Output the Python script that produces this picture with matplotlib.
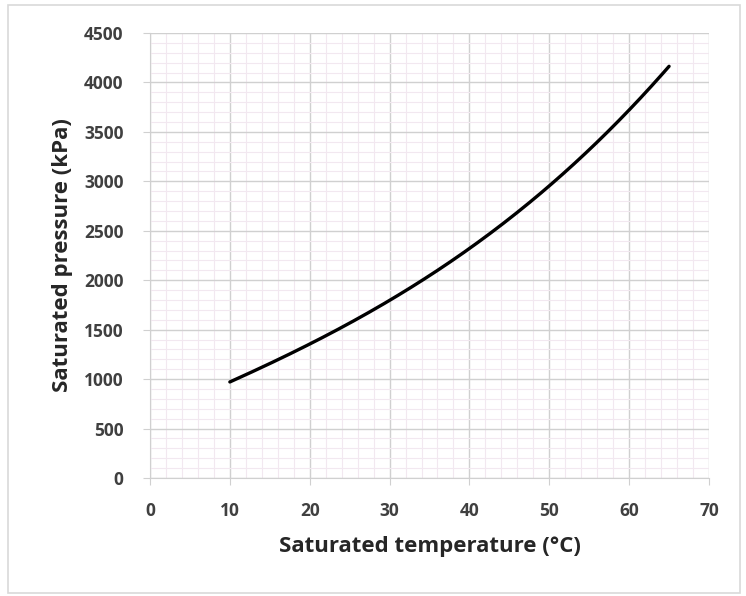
import matplotlib
matplotlib.use("Agg")
import matplotlib.pyplot as plt
from matplotlib.ticker import MultipleLocator
from matplotlib.patches import Rectangle
import numpy as np

temperature = [10, 15, 20, 25, 30, 35, 40, 45, 50, 55, 60, 65]
pressure = [975, 1155, 1350, 1565, 1800, 2050, 2315, 2625, 2965, 3320, 3700, 4175]

x_ticks = [0, 10, 20, 30, 40, 50, 60, 70]
y_ticks = [0, 500, 1000, 1500, 2000, 2500, 3000, 3500, 4000, 4500]

plt.rcParams['font.family'] = ['Open Sans', 'DejaVu Sans']

fig = plt.figure(figsize=(7.46, 5.96), dpi=100)
fig.patch.set_facecolor('white')
fig.patches.append(Rectangle((8/746, 1-593/596), (740-8)/746, (593-5)/596,
                             transform=fig.transFigure, fill=False,
                             edgecolor='#d9d9d9', linewidth=1.2))

ax = fig.add_axes([150/746, 1-478/596, (709-150)/746, (478-33)/596])

# smooth curve through the read points
t = np.array(temperature, dtype=float)
p = np.array(pressure, dtype=float)
ts = np.linspace(t[0], t[-1], 200)
coef = np.polyfit(t, p, 3)
ax.plot(ts, np.polyval(coef, ts), color='black', linewidth=2.4, solid_capstyle='round', zorder=5)

ax.set_xlim(0, 70)
ax.set_ylim(0, 4500)
ax.set_xticks(x_ticks)
ax.set_yticks(y_ticks)
ax.xaxis.set_minor_locator(MultipleLocator(2))
ax.yaxis.set_minor_locator(MultipleLocator(100))
ax.grid(which='major', color='#d0d0d0', linewidth=1.0)
ax.grid(which='minor', color='#f2e8f0', linewidth=0.8)
ax.set_axisbelow(True)

for s in ax.spines.values():
    s.set_visible(False)
ax.spines['left'].set_visible(True)
ax.spines['bottom'].set_visible(True)
ax.spines['left'].set_color('#d0d0d0')
ax.spines['bottom'].set_color('#d0d0d0')

ax.tick_params(which='major', length=5, color='#d0d0d0', labelsize=12.5,
               labelcolor='#404040')
ax.tick_params(axis='y', which='major', pad=14)
ax.tick_params(axis='x', which='major', pad=12)
ax.tick_params(which='minor', length=0)
for lbl in ax.get_xticklabels() + ax.get_yticklabels():
    lbl.set_fontweight('bold')

ax.set_xlabel('Saturated temperature (°C)', fontsize=16, fontweight='bold',
              color='#262626', labelpad=12)
ax.set_ylabel('Saturated pressure (kPa)', fontsize=16, fontweight='bold',
              color='#262626', labelpad=8)

fig.savefig('out.png', dpi=100)
